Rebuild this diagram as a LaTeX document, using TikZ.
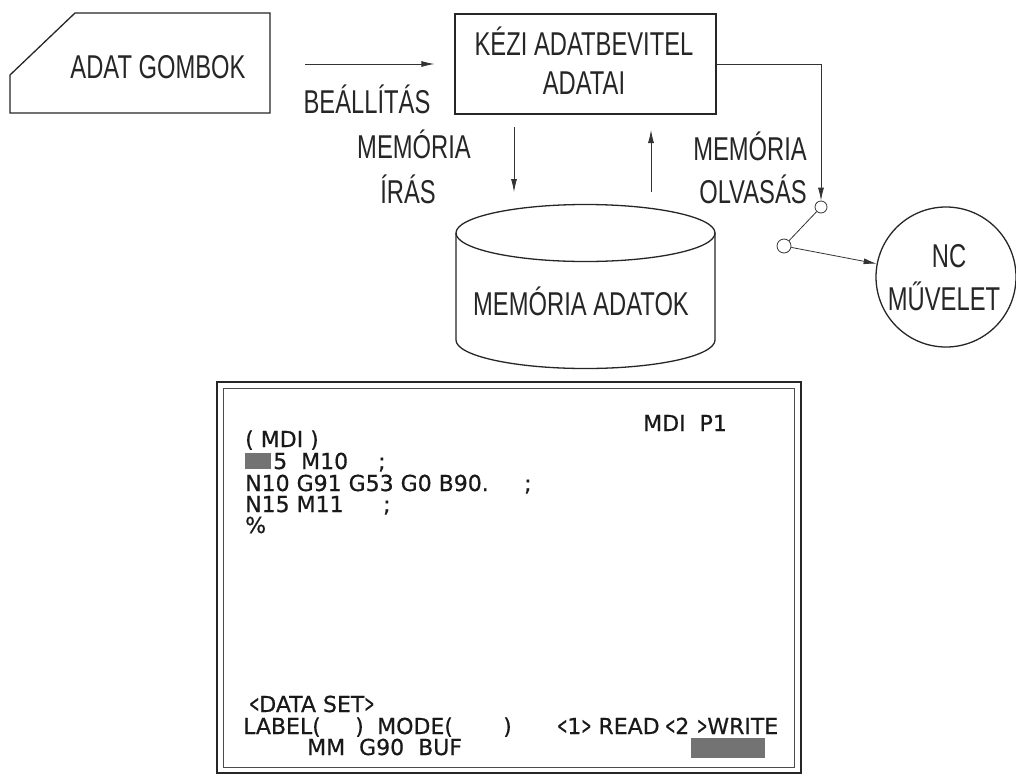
\documentclass[tikz,border=0pt]{standalone}
\usepackage{fontspec}
\usepackage{graphicx}
\newfontfamily\isofont[FakeStretch=0.72]{Liberation Sans}
\newfontfamily\scrfont[FakeBold=0.6]{DejaVu Sans}
\usetikzlibrary{arrows.meta}
\newcommand\scrlt{\scalebox{0.55}[1.1]{<}}
\newcommand\scrgt{\scalebox{0.55}[1.1]{>}}
\begin{document}
\begin{tikzpicture}[x=1pt,y=-1pt,
  iso/.style={font=\isofont\fontsize{33}{39}\selectfont, inner sep=0pt, anchor=base, text=black!85},
  scr/.style={font=\scrfont\fontsize{22}{22}\selectfont, inner sep=0pt, anchor=base west, text=black!90},
  boxline/.style={line width=1.3pt, draw=black!85},
  conn/.style={line width=0.8pt, draw=black!80},
  tip/.style={-{Latex[length=13pt,width=6pt]}},
  swc/.style={circle, conn, inner sep=0pt, fill=white},
  cursor/.style={fill=black!55},
]
\useasboundingbox (0,0) rectangle (1016,774);
\fill[white] (0,0) rectangle (1016,774);

% ---- ADAT GOMBOK (chamfered box)
\draw[boxline] (75,13) -- (270,13) -- (270,113) -- (10,113) -- (10,75) -- cycle;
\node[iso] (gomb) at (158,78) {ADAT GOMBOK};

% ---- KEZI ADATBEVITEL box
\node[boxline, minimum width=261pt, minimum height=100pt, inner sep=0pt] (kezi) at (585.5,64) {};
\node[iso] (kezi1) at (584,55) {KÉZI ADATBEVITEL};
\node[iso] (kezi2) at (584,94) {ADATAI};

% ---- BEALLITAS arrow
\coordinate (bs) at (305,64);
\draw[conn,tip] (bs) -- ([xshift=-20pt]kezi.west);
\node[iso] (beall) at (367,113) {BEÁLLÍTÁS};

% ---- memory write / read labels
\node[iso] (mem1) at (414,158) {MEMÓRIA};
\node[iso] (iras) at (408,203) {ÍRÁS};
\node[iso] (mem2) at (750,160) {MEMÓRIA};
\node[iso] (olv) at (753,203) {OLVASÁS};

% ---- cylinder (MEMORIA ADATOK)
\draw[boxline] (585.5,233) ellipse [x radius=129.5pt, y radius=28.5pt];
\draw[boxline] (456,233) -- (456,340) arc[start angle=180, end angle=360, x radius=129.5pt, y radius=28.5pt] -- (715,233);
\node[iso] (memadat) at (581,315) {MEMÓRIA ADATOK};

% ---- vertical arrows between box and cylinder
\coordinate (dw1) at (514,127);
\coordinate (dw2) at (514,192);
\coordinate (up1) at (651,192);
\coordinate (up2) at (651,130);
\draw[conn,tip] (dw1) -- (dw2);
\draw[conn,tip] (up1) -- (up2);

% ---- switch and NC
\node[swc, minimum size=12pt] (sw1) at (821,207) {};
\node[swc, minimum size=14pt] (sw2) at (784,246) {};
\node[circle, boxline, minimum size=140pt, inner sep=0pt] (nc) at (946,277) {};
\node[iso] (nc1) at (949,267) {NC};
\node[iso] (nc2) at (944,310) {MŰVELET};
\draw[conn,tip] (kezi.east) -| (sw1.north);
\draw[conn] (sw1) -- (sw2);
\draw[conn,tip] (sw2) -- (nc);

% ---- screen
\draw[line width=2pt, black!85] (217,382) rectangle (801,773);
\draw[line width=0.9pt, black!70] (223,388) rectangle (794,767);

\node[scr] (mdip) at (643,431) {MDI\ \ P1};
\node[scr] (l1) at (245,447) {( MDI )};
\fill[cursor] (245,453) rectangle (271,469);
\node[scr] (l2) at (273,469) {5\ \ M10};
\node[scr] (l2b) at (378,469) {;};
\node[scr] (l3) at (245,491) {N10 G91 G53 G0 B90.};
\node[scr] (l3b) at (524,491) {;};
\node[scr] (l4) at (245,512) {N15 M11};
\node[scr] (l4b) at (383,512) {;};
\node[scr] (l5) at (245,533) {\%};

\node[scr] (ds) at (249,712) {\scrlt DATA SET\scrgt};
\node[scr] (lab) at (243,734) {LABEL(};
\node[scr] (labc) at (355,734) {)};
\node[scr] (mode) at (377,734) {MODE(};
\node[scr] (modec) at (503,734) {)};
\node[scr] (rd) at (557,734) {\scrlt 1\scrgt\ READ};
\node[scr] (wr1) at (665,734) {\scrlt 2};
\node[scr] (wr2) at (697,734) {\scrgt WRITE};
\node[scr] (mm) at (307,755) {MM\ \ G90\ \ BUF};
\fill[cursor] (691,738) rectangle (765,758);
\end{tikzpicture}
\end{document}
